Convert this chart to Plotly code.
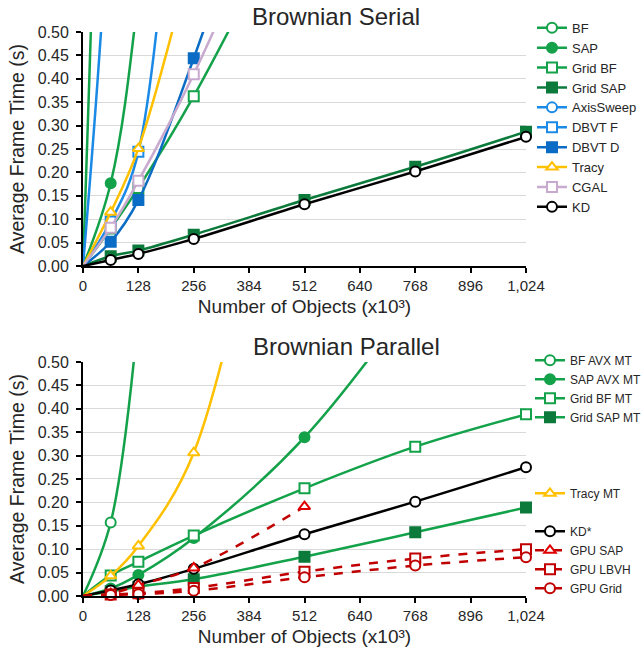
import plotly.graph_objects as go

# ---------------- data ----------------
x_objects = [0, 64, 128, 256, 512, 768, 1024]          # thousands of objects
x_tick_vals = [0, 128, 256, 384, 512, 640, 768, 896, 1024]

# Brownian Serial (seconds)
serial_bf        = [0, 2.10, 8.00, None, None, None, None]
serial_sap       = [0, 0.177, 0.58, 2.00, None, None, None]
serial_grid_bf   = [0, 0.080, 0.167, 0.363, 0.82, None, None]
serial_grid_sap  = [0, 0.021, 0.033, 0.067, 0.141, 0.212, 0.287]
serial_axissweep = [0, 0.85, 3.00, None, None, None, None]
serial_dbvt_f    = [0, 0.095, 0.244, 1.50, None, None, None]
serial_dbvt_d    = [0, 0.052, 0.141, 0.444, 1.15, None, None]
serial_tracy     = [0, 0.115, 0.251, 0.68, None, None, None]
serial_cgal      = [0, 0.082, 0.182, 0.410, 0.95, None, None]
serial_kd        = [0, 0.013, 0.026, 0.058, 0.132, 0.202, 0.276]

# Brownian Parallel (seconds)
par_bf_avx      = [0, 0.157, 0.60, None, None, None, None]
par_sap_avx     = [0, 0.016, 0.045, 0.124, 0.339, 0.64, None]
par_grid_bf     = [0, 0.044, 0.073, 0.129, 0.230, 0.319, 0.388]
par_grid_sap    = [0, 0.010, 0.020, 0.036, 0.084, 0.136, 0.189]
par_tracy       = [0, 0.043, 0.107, 0.306, 1.35, None, None]
par_kd          = [0, 0.012, 0.025, 0.058, 0.132, 0.2015, 0.275]
par_gpu_sap     = [0, 0.005, 0.023, 0.060, 0.191, None, None]
par_gpu_lbvh    = [0, 0.003, 0.006, 0.017, 0.052, 0.080, 0.100]
par_gpu_grid    = [0, 0.002, 0.004, 0.011, 0.040, 0.065, 0.083]

Y_MAX = 0.5

# ---------------- styles ----------------
GREEN = "#13A24A"
DGREEN = "#0B7A3A"
BLUE = "#1A8AE6"
DBLUE = "#0A6CC4"
YELLOW = "#FFC000"
LILAC = "#C8AACF"
BLACK = "#000000"
RED = "#C00000"
RED2 = "#E00000"

fig = go.Figure()


def add(name, y, line_color, symbol, filled, mcolor=None, dash="solid",
        xa="x", ya="y", legend="legend"):
    mcolor = mcolor or line_color
    # markers are shown only for measured points inside the visible range
    shown = [i for i, (xv, v) in enumerate(zip(x_objects, y))
             if xv != 0 and v is not None and v <= Y_MAX]
    fig.add_trace(go.Scatter(
        x=x_objects, y=y, name=name, mode="lines+markers",
        line=dict(color=line_color, width=2.5, shape="spline", dash=dash),
        marker=dict(symbol=symbol, size=10,
                    color=mcolor if filled else "white",
                    line=dict(color=mcolor, width=2)),
        selectedpoints=shown,
        selected=dict(marker=dict(opacity=1)),
        unselected=dict(marker=dict(opacity=0)),
        cliponaxis=False, xaxis=xa, yaxis=ya, legend=legend,
    ))


def blank(legend, xa, ya):
    fig.add_trace(go.Scatter(
        x=[None], y=[None], name=" ", mode="lines",
        line=dict(color="rgba(0,0,0,0)"), xaxis=xa, yaxis=ya,
        legend=legend, hoverinfo="skip"))


# Serial
add("BF", serial_bf, GREEN, "circle", False)
add("SAP", serial_sap, GREEN, "circle", True)
add("Grid BF", serial_grid_bf, GREEN, "square", False)
add("Grid SAP", serial_grid_sap, DGREEN, "square", True)
add("AxisSweep", serial_axissweep, BLUE, "circle", False)
add("DBVT F", serial_dbvt_f, BLUE, "square", False)
add("DBVT D", serial_dbvt_d, DBLUE, "square", True)
add("Tracy", serial_tracy, YELLOW, "triangle-up", False)
add("CGAL", serial_cgal, LILAC, "square", False)
add("KD", serial_kd, BLACK, "circle", False)

# Parallel
P = dict(xa="x2", ya="y2", legend="legend2")
add("BF AVX MT", par_bf_avx, GREEN, "circle", False, **P)
add("SAP AVX MT", par_sap_avx, GREEN, "circle", True, **P)
add("Grid BF MT", par_grid_bf, GREEN, "square", False, **P)
add("Grid SAP MT", par_grid_sap, GREEN, "square", True, mcolor=DGREEN, **P)
blank("legend2", "x2", "y2")
blank("legend2", "x2", "y2")
blank("legend2", "x2", "y2")
add("Tracy MT", par_tracy, YELLOW, "triangle-up", False, **P)
blank("legend2", "x2", "y2")
add("KD*", par_kd, BLACK, "circle", False, **P)
add("GPU SAP", par_gpu_sap, RED, "triangle-up", False, mcolor=RED2, dash="dash", **P)
add("GPU LBVH", par_gpu_lbvh, RED, "square", False, dash="dash", **P)
add("GPU Grid", par_gpu_grid, RED, "circle", False, dash="dash", **P)

FONT = "Liberation Sans, Arial, sans-serif"
TXT = "#262626"

xaxis_common = dict(
    range=[0, 1024], tickvals=x_tick_vals, tickformat=",d",
    showgrid=False, zeroline=False, showline=True, linecolor="black",
    linewidth=2, ticks="outside", ticklen=5, tickwidth=1.5, tickcolor="black",
    tickfont=dict(size=15, color=TXT, family=FONT),
    title=dict(text="Number of Objects (x10³)", font=dict(size=19, color=TXT, family=FONT),
               standoff=7),
)
yaxis_common = dict(
    range=[0, Y_MAX], dtick=0.05, tickformat=".2f",
    showgrid=True, gridcolor="#D9D9D9", gridwidth=1, zeroline=False,
    showline=True, linecolor="black", linewidth=2,
    ticks="outside", ticklen=5, tickwidth=1.5, tickcolor="black",
    ticklabelstandoff=4,
    tickfont=dict(size=16, color=TXT, family=FONT),
    title=dict(text="Average Frame Time (s)", font=dict(size=19.5, color=TXT, family=FONT),
               standoff=8),
)

fig.update_layout(
    width=644, height=653,
    margin=dict(l=83, r=118, t=32, b=57, autoexpand=False),
    paper_bgcolor="white", plot_bgcolor="white",
    font=dict(family=FONT, color=TXT),
    xaxis=dict(domain=[0, 1], anchor="y", **xaxis_common),
    yaxis=dict(domain=[0.585, 1], anchor="x", **yaxis_common),
    xaxis2=dict(domain=[0, 1], anchor="y2", **xaxis_common),
    yaxis2=dict(domain=[0, 0.415], anchor="x2", **yaxis_common),
    legend=dict(x=1.0135, xanchor="left", y=1.034, yanchor="top",
                font=dict(size=13, color=TXT, family=FONT),
                bgcolor="rgba(0,0,0,0)", itemwidth=30, tracegroupgap=0),
    legend2=dict(x=1.009, xanchor="left", y=0.4435, yanchor="top",
                 font=dict(size=12, color=TXT, family=FONT),
                 bgcolor="rgba(0,0,0,0)", itemwidth=30, tracegroupgap=0),
    annotations=[
        dict(text="Brownian Serial", xref="paper", yref="paper", x=0.571, y=1.028,
             xanchor="center", yanchor="middle", showarrow=False,
             font=dict(size=24, color=TXT, family=FONT)),
        dict(text="Brownian Parallel", xref="paper", yref="paper", x=0.594, y=0.4415,
             xanchor="center", yanchor="middle", showarrow=False,
             font=dict(size=24, color=TXT, family=FONT)),
    ],
    showlegend=True,
)

fig.write_html("out.html")
